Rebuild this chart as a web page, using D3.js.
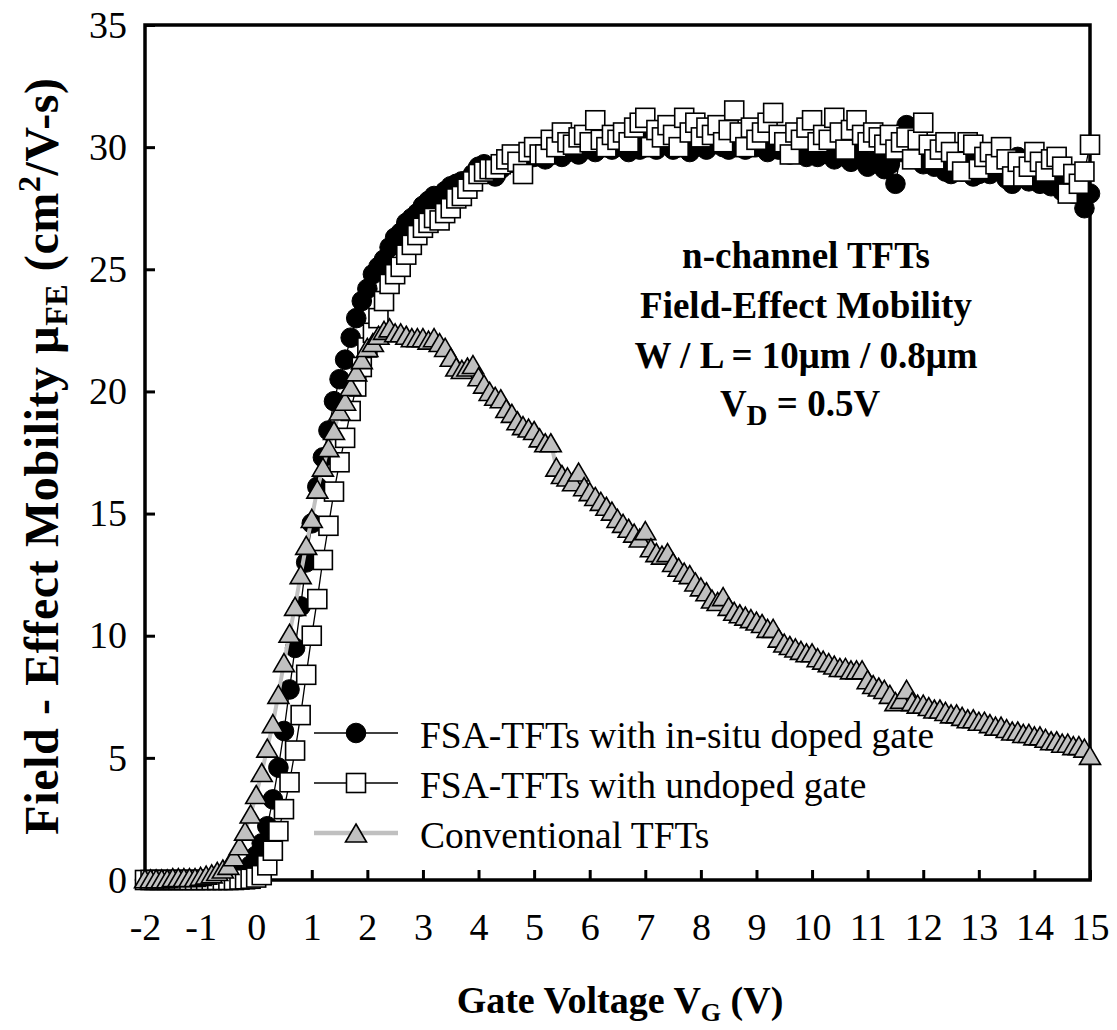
<!DOCTYPE html>
<html><head><meta charset="utf-8">
<script src="https://cdn.jsdelivr.net/npm/d3@7"></script>
<style>body{margin:0;background:#fff}svg{display:block}</style>
</head><body>
<svg id="c" width="1117" height="1030"></svg>
<script>
// ---- data ----
const vg = [
-2,-1.9,-1.8,-1.7,-1.6,-1.5,-1.4,-1.3,-1.2,-1.1,
-1,-0.9,-0.8,-0.7,-0.6,-0.5,-0.4,-0.3,-0.2,-0.1,
0,0.1,0.2,0.3,0.4,0.5,0.6,0.7,0.8,0.9,
1,1.1,1.2,1.3,1.4,1.5,1.6,1.7,1.8,1.9,
2,2.1,2.2,2.3,2.4,2.5,2.6,2.7,2.8,2.9,
3,3.1,3.2,3.3,3.4,3.5,3.6,3.7,3.8,3.9,
4,4.1,4.2,4.3,4.4,4.5,4.6,4.7,4.8,4.9,
5,5.1,5.2,5.3,5.4,5.5,5.6,5.7,5.8,5.9,
6,6.1,6.2,6.3,6.4,6.5,6.6,6.7,6.8,6.9,
7,7.1,7.2,7.3,7.4,7.5,7.6,7.7,7.8,7.9,
8,8.1,8.2,8.3,8.4,8.5,8.6,8.7,8.8,8.9,
9,9.1,9.2,9.3,9.4,9.5,9.6,9.7,9.8,9.9,
10,10.1,10.2,10.3,10.4,10.5,10.6,10.7,10.8,10.9,
11,11.1,11.2,11.3,11.4,11.5,11.6,11.7,11.8,11.9,
12,12.1,12.2,12.3,12.4,12.5,12.6,12.7,12.8,12.9,
13,13.1,13.2,13.3,13.4,13.5,13.6,13.7,13.8,13.9,
14,14.1,14.2,14.3,14.4,14.5,14.6,14.7,14.8,14.9,
15];

const dopedGate = [
0,0,0,0,0,0,0,0,0,0,
0,0.02,0.03,0.05,0.07,0.1,0.15,0.2,0.35,0.6,
1.0,1.5,2.2,3.3,4.6,6.1,7.8,9.5,11.2,13.0,
14.6,16.1,17.3,18.4,19.6,20.5,21.3,22.2,23.0,23.7,
24.2,24.8,25.1,25.4,25.9,26.3,26.5,26.9,27.1,27.3,
27.6,27.8,28.0,28.0,28.2,28.4,28.5,28.6,28.6,28.9,
29.2,29.3,29.0,28.8,29.1,29.3,29.4,29.3,29.2,29.6,
29.6,29.8,29.5,29.7,29.9,29.6,29.8,30.0,29.7,29.9,
30.1,29.8,30.0,30.2,29.9,30.1,30.0,29.8,30.2,29.9,
30.0,30.3,29.9,30.1,30.2,29.9,30.0,30.3,29.8,30.1,
30.2,29.9,30.1,30.3,30.0,29.9,30.2,30.0,29.9,30.1,
30.0,30.2,29.8,30.0,29.9,30.1,29.7,29.9,30.0,29.6,
29.8,29.6,29.9,29.7,29.5,29.8,29.6,29.4,29.7,29.5,
29.2,29.4,29.6,29.1,29.3,28.5,29.8,30.9,29.9,29.5,
29.3,29.6,29.2,29.4,29.0,28.9,29.3,29.0,29.4,28.8,
28.9,29.2,28.9,29.5,29.2,28.7,28.5,29.6,28.8,28.6,
28.9,28.5,28.7,28.4,28.6,28.2,28.3,28.1,28.2,27.5,
28.1];

const undopedGate = [
0,0,0,0,0,0,0,0,0,0,
0,0,0,0,0,0,0,0.02,0.03,0.05,
0.1,0.2,0.6,1.2,2.0,2.9,4.0,5.3,6.75,8.4,
10.0,11.5,13.1,14.5,15.9,17.1,18.1,19.2,20.2,21.0,
21.8,22.4,23.0,23.7,24.4,24.8,25.1,25.6,26.0,26.4,
26.7,26.9,27.1,27.0,27.3,27.5,27.9,28.0,28.3,28.6,
28.9,29.0,29.1,29.1,29.3,29.5,29.7,29.4,28.9,29.8,
30.0,29.7,29.7,30.3,30.0,30.6,30.2,30.1,30.4,30.5,
30.2,31.1,30.3,30.0,30.5,30.3,30.6,30.2,30.8,31.0,
31.2,30.0,30.7,30.4,30.9,30.5,30.0,31.2,30.6,31.0,
30.4,30.8,30.5,30.9,30.2,30.7,31.5,30.6,30.0,30.8,
30.3,30.6,31.0,31.4,30.5,30.2,29.7,30.6,30.3,30.8,
31.1,30.2,30.5,30.3,31.2,30.6,29.9,30.7,31.1,30.5,
30.2,30.6,30.4,30.1,30.5,29.9,30.2,30.4,29.5,30.3,
31.0,30.1,29.5,29.9,30.2,29.8,29.4,29.0,30.2,30.1,
29.1,29.6,29.8,29.3,30.0,29.5,28.8,29.4,28.8,29.2,
29.8,29.4,29.0,29.5,29.6,29.2,28.1,28.9,28.5,29.0,
30.1];

const conventional = [
0.05,0.05,0.05,0.05,0.05,0.1,0.1,0.1,0.1,0.1,
0.15,0.2,0.25,0.35,0.45,0.6,0.95,1.4,2.0,2.7,
3.5,4.4,5.4,6.4,7.6,8.9,10.1,11.2,12.5,13.7,
14.8,16.0,16.9,17.7,18.4,19.2,19.6,20.2,20.8,21.3,
21.8,22.0,22.3,22.5,22.6,22.4,22.4,22.3,22.2,22.2,
22.2,22.1,22.2,22.0,21.8,21.4,21.0,20.9,21.0,21.1,
20.6,20.3,20.0,19.8,19.7,19.3,19.1,18.8,18.6,18.5,
18.4,18.1,17.9,17.9,16.9,16.6,16.5,16.3,16.7,16.1,
15.9,15.7,15.5,15.3,15.1,14.8,14.6,14.4,14.2,14.0,
14.3,13.6,13.4,13.3,13.4,13.0,12.8,12.6,12.5,12.2,
12.0,11.8,11.5,11.4,11.6,11.2,11.0,10.9,10.8,10.7,
10.6,10.5,10.3,10.3,9.9,9.7,9.6,9.5,9.4,9.3,
9.3,9.1,9.0,8.9,8.8,8.7,8.7,8.6,8.6,8.6,
8.2,8.0,7.9,7.8,7.6,7.3,7.4,7.8,7.3,7.2,
7.2,7.1,7.0,7.0,6.9,6.8,6.8,6.7,6.6,6.6,
6.5,6.5,6.4,6.3,6.3,6.2,6.1,6.1,6.0,6.0,
5.9,5.9,5.8,5.7,5.7,5.6,5.6,5.5,5.5,5.4,
5.1];

const xTicks = [-2,-1,0,1,2,3,4,5,6,7,8,9,10,11,12,13,14,15];
const yTicks = [0,5,10,15,20,25,30,35];
const seriesNames = ["FSA-TFTs with in-situ doped gate","FSA-TFTs with undoped gate","Conventional TFTs"];

// ---- layout ----
const svg = d3.select("#c");
const FONT = "'Liberation Serif','Times New Roman',serif";
const pLeft = 145, pRight = 1090, pTop = 25, pBottom = 880;
const x = d3.scaleLinear().domain([-2, 15]).range([pLeft, pRight]);
const y = d3.scaleLinear().domain([0, 35]).range([pBottom, pTop]);
const fmt = d => String(d); // plain hyphen-minus like the reference

// axes (ticks pointing inward)
const gx = svg.append("g").attr("transform", `translate(0,${pBottom})`)
  .call(d3.axisBottom(x).tickValues(xTicks).tickSizeInner(-10).tickSizeOuter(0).tickPadding(33).tickFormat(fmt));
const gy = svg.append("g").attr("transform", `translate(${pLeft},0)`)
  .call(d3.axisLeft(y).tickValues(yTicks).tickSizeInner(-10).tickSizeOuter(0).tickPadding(18).tickFormat(fmt));
[gx, gy].forEach(g => {
  g.select(".domain").remove();
  g.selectAll(".tick line").attr("stroke", "#000").attr("stroke-width", 3);
  g.selectAll(".tick text").attr("fill", "#000").style("font-family", FONT).style("font-size", "38px");
});
// frame
svg.append("rect").attr("x", pLeft).attr("y", pTop).attr("width", pRight - pLeft).attr("height", pBottom - pTop)
  .attr("fill", "none").attr("stroke", "#000").attr("stroke-width", 3.5);

// marker helpers
const triPath = (w, h) => `M0,${-h/2}L${w/2},${h/2}L${-w/2},${h/2}Z`;
function drawMarker(g, kind) {
  if (kind === "circle") return g.append("circle").attr("r", 9.8).attr("fill", "#000").attr("stroke", "#000").attr("stroke-width", 1);
  if (kind === "square") return g.append("rect").attr("x", -9.5).attr("y", -9.5).attr("width", 19).attr("height", 19)
    .attr("fill", "#fff").attr("stroke", "#000").attr("stroke-width", 1.6);
  return g.append("path").attr("d", triPath(21, 18)).attr("fill", "#c0c0c0").attr("stroke", "#000").attr("stroke-width", 1.6);
}

const series = [
  { name: seriesNames[0], values: dopedGate, kind: "circle", line: "#000", lw: 1.3 },
  { name: seriesNames[1], values: undopedGate, kind: "square", line: "#000", lw: 1.3 },
  { name: seriesNames[2], values: conventional, kind: "triangle", line: "#c0c0c0", lw: 4 }
];

const line = d3.line().x((d, i) => x(vg[i])).y(d => y(d));
series.forEach(s => {
  const g = svg.append("g");
  g.append("path").datum(s.values).attr("d", line).attr("fill", "none").attr("stroke", s.line).attr("stroke-width", s.lw);
  s.values.forEach((v, i) => {
    const m = g.append("g").attr("transform", `translate(${x(vg[i])},${y(v)})`);
    drawMarker(m, s.kind);
  });
});

// legend
const legY = [733, 783, 833];
series.forEach((s, i) => {
  const g = svg.append("g").attr("transform", `translate(0,${legY[i]})`);
  g.append("line").attr("x1", 314).attr("x2", 398).attr("y1", 0).attr("y2", 0).attr("stroke", s.line).attr("stroke-width", s.lw + 0.3);
  drawMarker(g.append("g").attr("transform", "translate(356,0)"), s.kind);
  g.append("text").attr("x", 420).attr("y", 14.5).text(s.name)
    .style("font-family", FONT).style("font-size", "37.5px").attr("fill", "#000");
});

// annotation
const ann = svg.append("text").style("font-family", FONT).style("font-size", "37px").style("font-weight", "bold")
  .attr("text-anchor", "middle").attr("fill", "#000");
ann.append("tspan").attr("x", 806).attr("y", 268).text("n-channel TFTs");
ann.append("tspan").attr("x", 806).attr("y", 318).text("Field-Effect Mobility");
ann.append("tspan").attr("x", 806).attr("y", 368).text("W / L = 10\u03bcm / 0.8\u03bcm");
const vd = ann.append("tspan").attr("x", 800).attr("y", 416);
vd.append("tspan").text("V");
vd.append("tspan").attr("dy", 9).style("font-size", "29px").text("D");
vd.append("tspan").attr("dy", -9).text(" = 0.5V");

// x title
const xt = svg.append("text").attr("x", 620).attr("y", 1013).attr("text-anchor", "middle")
  .style("font-family", FONT).style("font-size", "38px").style("font-weight", "bold").attr("fill", "#000");
xt.append("tspan").text("Gate Voltage V");
xt.append("tspan").attr("dy", 8).style("font-size", "26px").text("G");
xt.append("tspan").attr("dy", -8).text(" (V)");

// y title
const yt = svg.append("text").attr("transform", "translate(58,456) rotate(-90)").attr("text-anchor", "middle")
  .style("font-family", FONT).style("font-size", "48px").style("font-weight", "bold")
  .style("letter-spacing", "0.6px").attr("fill", "#000");
yt.append("tspan").text("Field - Effect Mobility \u03bc");
yt.append("tspan").attr("dy", 9).style("font-size", "32px").text("FE");
yt.append("tspan").attr("dy", -9).text(" (cm");
yt.append("tspan").attr("dy", -18).style("font-size", "32px").text("2");
yt.append("tspan").attr("dy", 18).text("/V-s)");
</script>
</body></html>
